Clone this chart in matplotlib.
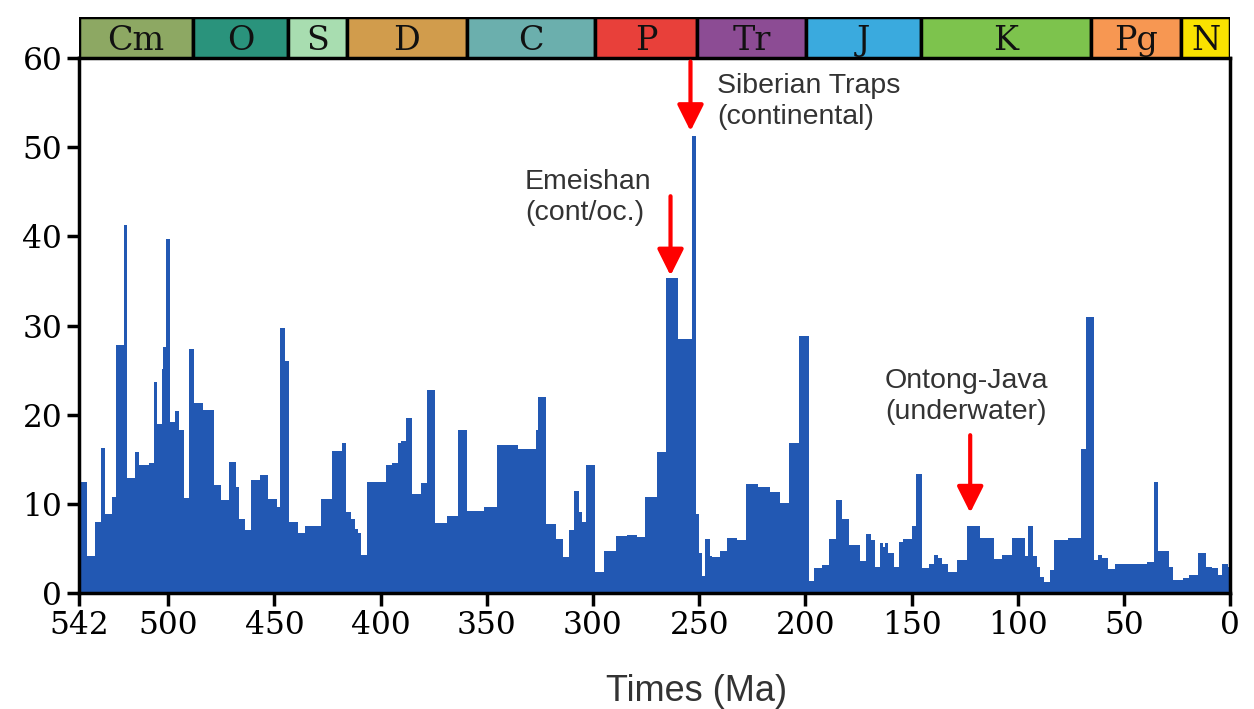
import numpy as np
import matplotlib
matplotlib.use('Agg')
import matplotlib.pyplot as plt
from matplotlib.patches import Rectangle

# Step edges (Ma, oldest first) and extinction intensity in each interval
edges = [542, 538, 534.6, 531.8, 529.7, 526.6, 524.4, 520.8, 519.2, 515.6,
         513.7, 509, 506.7, 505.4, 503, 502.3, 501.2, 499.1, 496.9, 494.9,
         492.6, 490.2, 487.9, 483.5, 478.4, 475, 471.4, 468.2, 466.7, 463.9,
         460.9, 456.8, 453, 449, 447.5, 445.2, 443.1, 438.7, 435.6, 427.9,
         423.1, 418.4, 416.2, 414.1, 412, 410.5, 409.1, 406.6, 397.6, 394.5,
         391.8, 390.3, 387.9, 385.1, 381.2, 378, 374.4, 368.9, 363.6, 359.2,
         351.4, 345.4, 335.2, 326.7, 325.8, 322, 317.6, 314.2, 311.1, 309,
         306.7, 305.4, 303.5, 299.2, 295, 289.1, 283.9, 279.2, 275.3, 269.8,
         265.4, 259.9, 253.6, 251.3, 250.2, 248.9, 247.1, 244.7, 243.9, 240.0,
         236.9, 232.2, 227.8, 222.1, 216.5, 211.8, 207.5, 203.1, 198.4, 196.1,
         192.2, 189.0, 185.6, 182.7, 179.3, 174.1, 171.3, 169.1, 167.1, 164.7,
         163.6, 162.4, 161.1, 158.4, 156.1, 154.2, 149.8, 147.9, 145.1, 142.0,
         139.6, 137.7, 135.7, 132.9, 128.6, 123.9, 117.6, 111.4, 107.5, 102.7,
         96.8, 95.2, 92.8, 91.0, 89.4, 87.8, 84.7, 82.8, 76.4, 70.1,
         67.8, 64.3, 62.3, 60.4, 57.6, 54.4, 39.2, 35.8, 34.0, 29.0,
         26.7, 22.1, 19.6, 15.2, 11.4, 8.6, 5.5, 3.9, 0.8, 0]

intensity = [12.5, 4.1, 8.0, 16.3, 8.9, 10.8, 27.8, 41.3, 12.9, 15.8,
             14.3, 14.6, 23.7, 19.0, 25.1, 27.6, 39.7, 19.2, 20.4, 18.3,
             10.6, 27.4, 21.3, 20.5, 12.1, 10.4, 14.65, 11.9, 8.3, 7.1,
             12.7, 13.2, 10.5, 9.7, 29.7, 26.0, 8.0, 6.7, 7.5, 10.5,
             15.9, 16.8, 9.1, 8.3, 7.2, 6.7, 4.3, 12.5, 14.3, 14.6,
             16.8, 17.1, 19.6, 11.1, 12.3, 22.8, 7.8, 8.6, 18.3, 9.2,
             9.7, 16.6, 16.2, 18.3, 22.0, 7.7, 6.1, 4.0, 7.1, 11.4,
             9.1, 8.0, 14.3, 2.4, 4.7, 6.4, 6.5, 6.3, 10.8, 15.8,
             35.3, 28.5, 51.2, 8.9, 4.5, 1.9, 6.05, 4.1, 4.0, 4.7,
             6.2, 5.9, 12.2, 11.9, 11.3, 10.1, 16.85, 28.8, 1.3, 2.8,
             3.1, 6.05, 10.4, 8.3, 5.4, 3.6, 6.6, 5.9, 2.95, 5.6,
             5.2, 5.6, 4.5, 2.95, 5.75, 6.1, 7.5, 13.3, 2.8, 3.2,
             4.3, 3.9, 3.3, 2.4, 3.7, 7.5, 6.2, 3.8, 4.3, 6.2,
             4.1, 7.5, 4.1, 2.95, 1.8, 1.2, 2.6, 6.0, 6.2, 16.1,
             31.0, 3.7, 4.3, 3.9, 2.65, 3.2, 3.5, 12.5, 4.7, 2.95,
             1.45, 1.65, 2.0, 4.5, 2.95, 2.8, 2.0, 3.3, 2.95]

# Geologic periods: name, start, end (Ma), colour
period_names = ['Cm', 'O', 'S', 'D', 'C', 'P', 'Tr', 'J', 'K', 'Pg', 'N']
period_bounds = [542, 488.3, 443.7, 416, 359.2, 299, 251, 199.6, 145.5, 65.5, 23, 0]
period_colors = ['#8DA863', '#2A937C', '#A8DDB0', '#D19C4C', '#6BAFAD', '#E8403A',
                 '#8C4C94', '#3AAADE', '#7DC34D', '#F79752', '#FAE200']

# Annotated large igneous provinces: label, age, arrow tail, arrow tip
lip_labels = ['Siberian Traps\n(continental)', 'Emeishan\n(cont/oc.)', 'Ontong-Java\n(underwater)']
lip_ages = [254.1, 263.5, 122.4]
lip_tail = [59.6, 44.5, 17.7]
lip_tip = [51.8, 35.6, 9.0]
lip_text_pos = [(241.5, 55.1), (332.0, 44.4), (162.5, 22.0)]

xticks = [542, 500, 450, 400, 350, 300, 250, 200, 150, 100, 50, 0]

fig = plt.figure(figsize=(12.54, 7.09), dpi=100)
ax = fig.add_axes([0.063, 0.1636, 0.918, 0.7546])
ax_top = fig.add_axes([0.063, 0.918, 0.918, 0.058], sharex=ax)

ax.stairs(intensity[::-1], edges[::-1], fill=True, color='#2258B3', lw=0)
ax.set_xlim(542, 0)
ax.set_ylim(0, 60)

serif = 'DejaVu Serif'
ax.set_xticks(xticks)
ax.set_xticklabels([str(t) for t in xticks], fontsize=22.5, family=serif)
ax.set_yticks(range(0, 61, 10))
ax.set_yticklabels([str(v) for v in range(0, 61, 10)], fontsize=22.5, family=serif)
ax.tick_params(axis='both', direction='out', length=9, width=2.5, pad=3)
for s in ax.spines.values():
    s.set_linewidth(2.5)

ax.set_xlabel('Times (Ma)', fontsize=26, family='Liberation Sans', color='#333333')
ax.xaxis.set_label_coords((696 - 79) / 1151, -0.152)

for label, age, tail, tip, pos in zip(lip_labels, lip_ages, lip_tail, lip_tip, lip_text_pos):
    ax.annotate('', xy=(age, tip), xytext=(age, tail),
                arrowprops=dict(arrowstyle='-|>', color='red', lw=3, mutation_scale=40,
                                shrinkA=0, shrinkB=0))
    ax.text(pos[0], pos[1], label, fontsize=20.5, family='Liberation Sans', color='#333333',
            ha='left', va='center', linespacing=1.25)

# Period bar on top
ax_top.set_ylim(0, 1)
ax_top.axis('off')
for name, start, end, col in zip(period_names, period_bounds[:-1], period_bounds[1:], period_colors):
    ax_top.add_patch(Rectangle((end, 0), start - end, 1, facecolor=col, edgecolor='black', lw=2.5))
    ax_top.text((start + end) / 2, 0.42, name, fontsize=24, family=serif,
                ha='center', va='center', color='#111111')

fig.savefig('out.png', dpi=100)
